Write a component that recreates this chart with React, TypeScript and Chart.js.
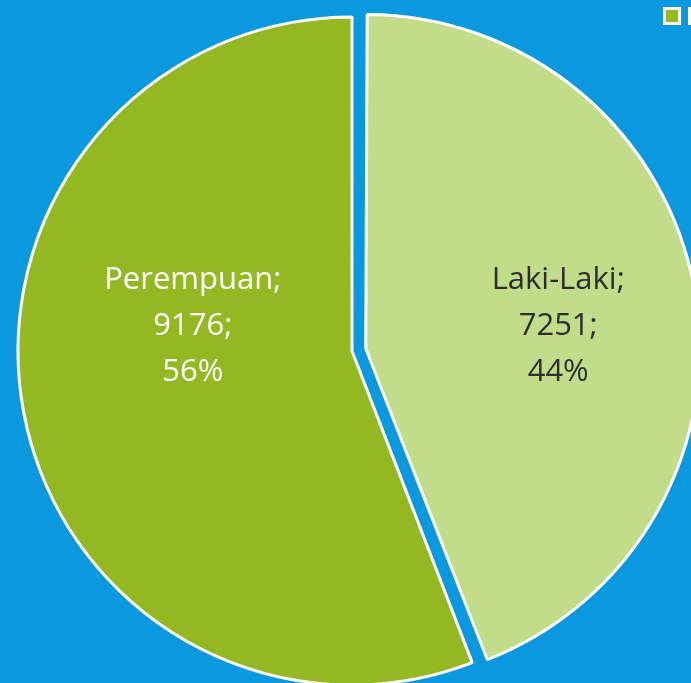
import React, { useEffect, useRef } from "react";
import { Chart, registerables } from "chart.js";

Chart.register(...registerables);

const categories = ["Laki-Laki", "Perempuan"];
const values = [7251, 9176];
const percents = ["44%", "56%"];
const legendOrder = [1, 0];

const COLORS = ["#C1DD8A", "#94B822"];
const TEXT_COLORS = ["#2E2E2E", "#FFFFFF"];
const BG = "#0A99DF";
const RADIUS = 334;
const LABEL_RADIUS = [0.628, 0.485];
const OFFSETS = [56, 0];

// Chart.js enlarges an offset arc by (offset/4)*(1 - sin(circumference));
// shrink it back so every slice keeps the same radius, as in the reference.
const equalRadiusPlugin = {
  id: "equalRadius",
  beforeDatasetsDraw(chart: any) {
    const meta = chart.getDatasetMeta(0);
    meta.data.forEach((arc: any, i: number) => {
      const off = (OFFSETS[i] || 0) / 4;
      const circ = arc.circumference;
      const fix = 1 - Math.sin(Math.min(Math.PI, circ || 0));
      arc.outerRadius = RADIUS - off * fix;
    });
  },
};

const labelPlugin = {
  id: "sliceLabels",
  afterDatasetsDraw(chart: any) {
    const ctx = chart.ctx;
    const meta = chart.getDatasetMeta(0);
    meta.data.forEach((arc: any, i: number) => {
      const p = arc.getProps(["x", "y", "startAngle", "endAngle"], true);
      const mid = (p.startAngle + p.endAngle) / 2;
      const r = RADIUS * LABEL_RADIUS[i];
      const x = p.x + Math.cos(mid) * r;
      const yc = p.y - 25;
      const lines = [categories[i] + ";", values[i] + ";", percents[i]];
      ctx.save();
      ctx.font = '31px "Open Sans"';
      ctx.fillStyle = TEXT_COLORS[i];
      ctx.textAlign = "center";
      ctx.textBaseline = "middle";
      const lh = 46;
      lines.forEach((t, k) => {
        ctx.fillText(t, x, yc + (k - 1) * lh);
      });
      ctx.restore();
    });
  },
};

const legendPlugin = {
  id: "cornerLegend",
  afterDraw(chart: any) {
    const ctx = chart.ctx;
    ctx.save();
    legendOrder.forEach((idx, k) => {
      const x = 665 + k * 25;
      const y = 9;
      ctx.fillStyle = "#FFFFFF";
      ctx.fillRect(x - 2, y - 2, 18, 18);
      ctx.fillStyle = COLORS[idx];
      ctx.fillRect(x + 1, y + 1, 12, 12);
    });
    ctx.restore();
  },
};

export default function App() {
  const ref = useRef<HTMLCanvasElement>(null);
  useEffect(() => {
    if (!ref.current) return;
    const chart = new Chart(ref.current, {
      type: "pie",
      data: {
        labels: categories,
        datasets: [
          {
            data: values,
            backgroundColor: COLORS,
            borderColor: "#FFFFFF",
            borderWidth: 3,
            offset: OFFSETS,
          },
        ],
      },
      options: {
        responsive: false,
        animation: false,
        radius: RADIUS,
        layout: { padding: 0 },
        plugins: {
          legend: { display: false },
          tooltip: { enabled: false },
        },
      },
      plugins: [equalRadiusPlugin, labelPlugin, legendPlugin],
    });
    return () => chart.destroy();
  }, []);
  return (
    <div
      style={{
        position: "fixed",
        left: 0,
        top: 0,
        width: 691,
        height: 683,
        overflow: "hidden",
        background: BG,
      }}
    >
      <canvas ref={ref} width={704} height={702} style={{ display: "block" }} />
    </div>
  );
}
